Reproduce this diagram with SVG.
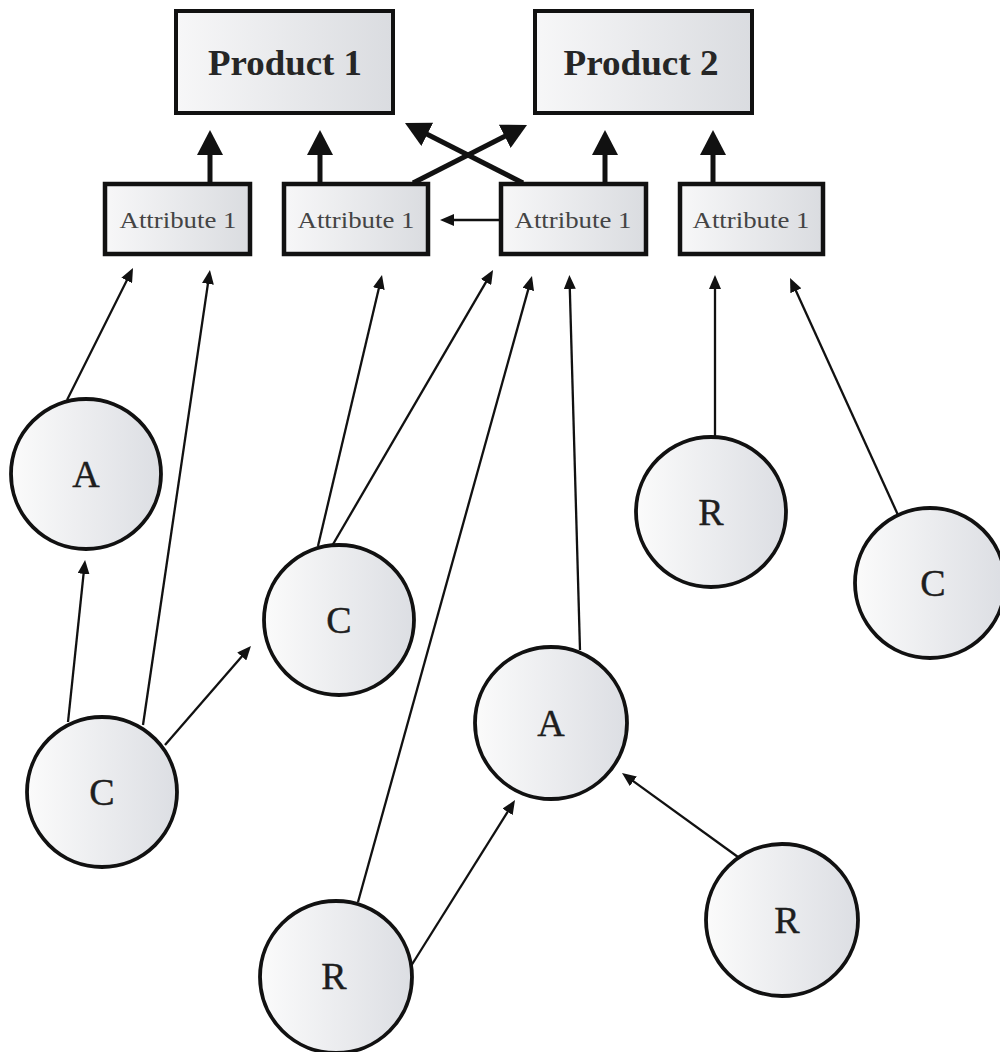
<svg xmlns="http://www.w3.org/2000/svg" width="1000" height="1052" viewBox="0 0 1000 1052">
<defs>
<linearGradient id="gBox" x1="0" y1="0" x2="1" y2="0">
<stop offset="0" stop-color="#f7f7f8"/><stop offset="1" stop-color="#dadce0"/>
</linearGradient>
<linearGradient id="gCirc" x1="0" y1="0" x2="1" y2="0">
<stop offset="0" stop-color="#fbfbfb"/><stop offset="1" stop-color="#dcdee3"/>
</linearGradient>
<marker id="big" markerUnits="userSpaceOnUse" markerWidth="25" markerHeight="26" refX="4" refY="13" orient="auto">
<path d="M0,0 L25,13 L0,26 z" fill="#111"/>
</marker>
<marker id="small" markerUnits="userSpaceOnUse" markerWidth="14" markerHeight="12" refX="4" refY="6" orient="auto">
<path d="M0,0 L14,6 L0,12 z" fill="#111"/>
</marker>
</defs>
<style>
.prod{fill:url(#gBox);stroke:#111;stroke-width:4}
.attr{fill:url(#gBox);stroke:#111;stroke-width:4.5}
.circ{fill:url(#gCirc);stroke:#111;stroke-width:3.8}
.pt{font-family:"Liberation Serif",serif;font-size:35px;font-weight:bold;fill:#262626;text-anchor:middle}
.at{font-family:"Liberation Serif",serif;font-size:23px;fill:#444;text-anchor:middle}
.ct{font-family:"Liberation Serif",serif;font-size:38px;fill:#1e1e1e;stroke:#1e1e1e;stroke-width:0.4;text-anchor:middle}
.thick{stroke:#111;stroke-width:5;fill:none;marker-end:url(#big)}
.thin{stroke:#111;stroke-width:2.3;fill:none;marker-end:url(#small)}
</style>
<rect width="1000" height="1052" fill="#fff"/>
<g id="connectors">
<line class="thick" x1="210" y1="183" x2="210" y2="151"/>
<line class="thick" x1="320" y1="183" x2="320" y2="151"/>
<line class="thick" x1="605" y1="183" x2="605" y2="151"/>
<line class="thick" x1="713" y1="183" x2="713" y2="151"/>
<line class="thick" x1="413" y1="183" x2="508.3" y2="134.5"/>
<line class="thick" x1="523" y1="183" x2="423.7" y2="132.5"/>
<line class="thin" x1="500" y1="220" x2="450" y2="220"/>
<line class="thin" x1="67" y1="400" x2="128.5" y2="276.9"/>
<line class="thin" x1="68" y1="722" x2="84" y2="569.9"/>
<line class="thin" x1="143" y1="725" x2="208.5" y2="279.9"/>
<line class="thin" x1="165" y1="745" x2="244.4" y2="653.5"/>
<line class="thin" x1="318" y1="546" x2="379.7" y2="284.7"/>
<line class="thin" x1="332" y1="546" x2="488" y2="278.6"/>
<line class="thin" x1="358" y1="902" x2="529.3" y2="285.6"/>
<line class="thin" x1="411" y1="966" x2="509.7" y2="808.5"/>
<line class="thin" x1="580" y1="650" x2="569.7" y2="285"/>
<line class="thin" x1="738" y1="857" x2="630.1" y2="778.9"/>
<line class="thin" x1="715" y1="438" x2="715" y2="285"/>
<line class="thin" x1="898" y1="515" x2="794.2" y2="287.1"/>
</g>
<g id="product1"><rect class="prod" x="176" y="11" width="217" height="102"/><text class="pt" x="285" y="75" textLength="154" lengthAdjust="spacingAndGlyphs">Product 1</text></g>
<g id="product2"><rect class="prod" x="535" y="11" width="217" height="102"/><text class="pt" x="641" y="75" textLength="155" lengthAdjust="spacingAndGlyphs">Product 2</text></g>
<g id="attr1"><rect class="attr" x="105" y="184" width="145" height="70"/><text class="at" x="178" y="228" textLength="117" lengthAdjust="spacingAndGlyphs">Attribute 1</text></g>
<g id="attr2"><rect class="attr" x="284" y="184" width="144" height="70"/><text class="at" x="356" y="228" textLength="117" lengthAdjust="spacingAndGlyphs">Attribute 1</text></g>
<g id="attr3"><rect class="attr" x="501" y="184" width="145" height="70"/><text class="at" x="573" y="228" textLength="117" lengthAdjust="spacingAndGlyphs">Attribute 1</text></g>
<g id="attr4"><rect class="attr" x="680" y="184" width="143" height="70"/><text class="at" x="751" y="228" textLength="117" lengthAdjust="spacingAndGlyphs">Attribute 1</text></g>
<g id="nA1"><circle class="circ" cx="86" cy="474" r="75"/><text class="ct" x="86" y="487">A</text></g>
<g id="nC1"><circle class="circ" cx="102" cy="792" r="75"/><text class="ct" x="102" y="805">C</text></g>
<g id="nC2"><circle class="circ" cx="339" cy="620" r="75"/><text class="ct" x="339" y="633">C</text></g>
<g id="nR1"><circle class="circ" cx="336" cy="977" r="76"/><text class="ct" x="334" y="989">R</text></g>
<g id="nA2"><circle class="circ" cx="551" cy="723" r="76"/><text class="ct" x="551" y="736">A</text></g>
<g id="nR2"><circle class="circ" cx="782" cy="920" r="76"/><text class="ct" x="787" y="933">R</text></g>
<g id="nR3"><circle class="circ" cx="711" cy="512" r="75"/><text class="ct" x="711" y="525">R</text></g>
<g id="nC3"><circle class="circ" cx="930" cy="583" r="75"/><text class="ct" x="933" y="596">C</text></g>
</svg>
